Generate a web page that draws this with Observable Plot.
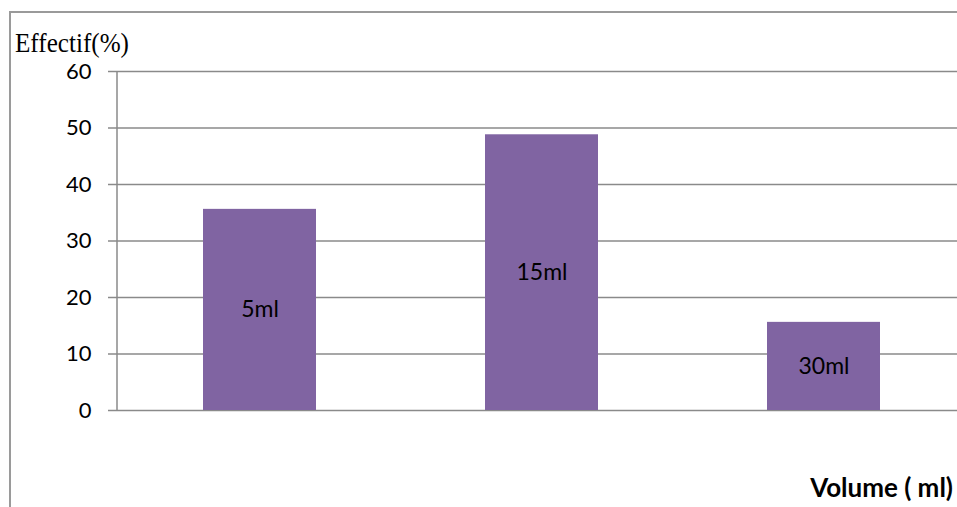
<!DOCTYPE html>
<html>
<head>
<meta charset="utf-8">
<script src="https://cdn.jsdelivr.net/npm/d3@7"></script>
<script src="https://cdn.jsdelivr.net/npm/@observablehq/plot@0.6"></script>
<style>
  html, body { margin: 0; padding: 0; background: #fff; }
  svg { display: block; }
</style>
</head>
<body>
<div id="chart"></div>
<script>
const categories = ["5ml", "15ml", "30ml"];
const values = [35.6, 48.8, 15.6];
const yTicks = [0, 10, 20, 30, 40, 50, 60];
const yTitle = "Effectif(%)";
const xTitle = "Volume ( ml)";

const data = categories.map((c, i) => ({cat: c, val: values[i]}));

const W = 957, H = 507;
const chart = Plot.plot({
  width: W,
  height: H,
  marginTop: 71,
  marginBottom: 97,
  marginLeft: 117,
  marginRight: 0,
  style: {fontFamily: "Lato, 'Open Sans', sans-serif", fontSize: "22px", background: "#fff", color: "#000"},
  x: {domain: categories, range: [117, 965], paddingInner: 0.6, paddingOuter: 0.3, axis: null},
  y: {domain: [0, 60], range: [410, 71]},
  marks: [
    Plot.ruleY(yTicks, {stroke: "#8a8a8a", strokeWidth: 1.5}),
    Plot.axisY({ticks: yTicks, tickSize: 9, tickPadding: 17, stroke: "#8a8a8a", strokeWidth: 1.5,
      fontSize: 22, fill: "#000", label: null}),
    Plot.barY(data, {x: "cat", y: "val", fill: "#8064A2"}),
    Plot.text(data, {x: "cat", y: d => d.val / 2, text: "cat", fontSize: 23, fill: "#000"})
  ]
});

const svg = d3.select(chart);
const y = chart.scale("y");
// vertical axis line
svg.append("line")
  .attr("x1", 117).attr("x2", 117)
  .attr("y1", y.apply(60)).attr("y2", y.apply(0))
  .attr("stroke", "#8a8a8a").attr("stroke-width", 1.5);
// outer chart-area border (top and left)
svg.append("path")
  .attr("d", `M10,${H} L10,12 L${W},12`)
  .attr("fill", "none").attr("stroke", "#9a9a9a").attr("stroke-width", 2);
// titles
svg.append("text")
  .attr("x", 15).attr("y", 52)
  .attr("text-anchor", "start")
  .attr("font-family", "'Liberation Serif', 'Times New Roman', serif")
  .attr("font-size", 27).attr("fill", "#000")
  .attr("textLength", 114).attr("lengthAdjust", "spacingAndGlyphs")
  .text(yTitle);
svg.append("text")
  .attr("x", 953).attr("y", 497)
  .attr("text-anchor", "end")
  .attr("font-family", "Lato, 'Open Sans', sans-serif")
  .attr("font-weight", "bold")
  .attr("font-size", 26).attr("fill", "#000")
  .text(xTitle);

document.getElementById("chart").appendChild(chart);
</script>
</body>
</html>
